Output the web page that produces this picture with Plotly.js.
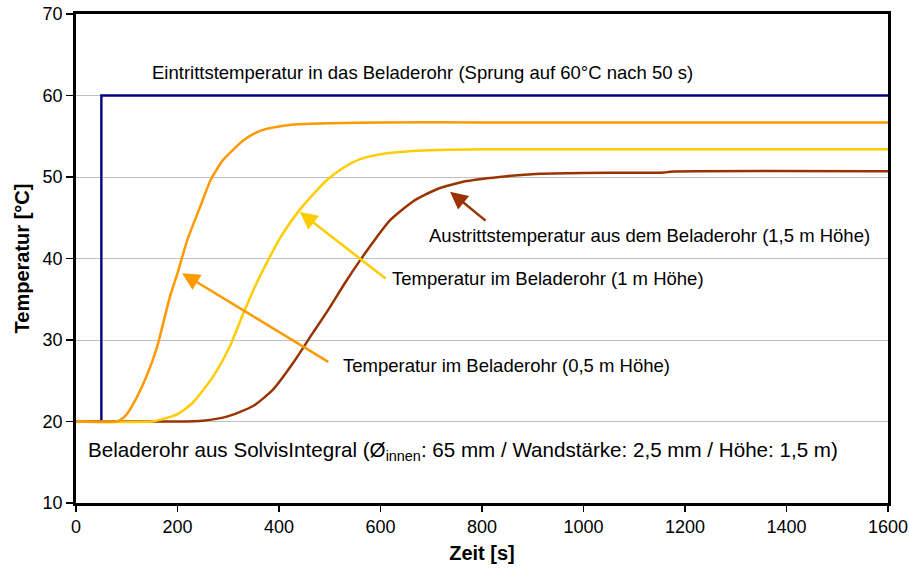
<!DOCTYPE html>
<html><head><meta charset="utf-8">
<script src="https://cdn.plot.ly/plotly-3.0.1.min.js"></script>
<style>html,body{margin:0;padding:0;background:#fff}#chart{width:909px;height:571px}</style>
</head><body><div id="chart"></div>
<script>
// Inlet temperature (step to 60 °C after 50 s)
const inletX = [0, 50, 50, 1600];
const inletY = [20, 20, 60, 60];
// 0.5 m height
const t05X = [0, 80, 90, 100, 120, 140, 160, 185, 200, 220, 245, 265, 290, 330, 350, 375, 400, 430, 500, 600, 800, 1000, 1200, 1600];
const t05Y = [20, 20, 20.3, 20.9, 23.0, 25.7, 29.2, 35.3, 38.2, 42.4, 46.4, 49.6, 52.1, 54.5, 55.3, 55.9, 56.2, 56.45, 56.6, 56.7, 56.7, 56.7, 56.7, 56.7];
// 1 m height
const t10X = [0, 150, 165, 200, 230, 270, 303, 330, 356, 382, 402, 441, 494, 526, 560, 600, 664, 800, 1000, 1600];
const t10Y = [20, 20, 20.2, 20.9, 22.3, 25.5, 29.2, 33.3, 37.0, 40.2, 42.5, 46.0, 49.6, 51.1, 52.2, 52.8, 53.2, 53.4, 53.4, 53.4];
// 1.5 m height (outlet)
const t15X = [0, 200, 250, 297, 349, 388, 428, 467, 497, 530, 560, 590, 619, 664, 711, 770, 849, 914, 1000, 1160, 1170, 1600];
const t15Y = [20, 20, 20.1, 20.6, 21.9, 23.9, 27.2, 30.9, 33.7, 37.0, 39.8, 42.4, 44.7, 47.0, 48.5, 49.5, 50.1, 50.4, 50.5, 50.55, 50.65, 50.7];

const xTicks = [0, 200, 400, 600, 800, 1000, 1200, 1400, 1600];
const yTicks = [10, 20, 30, 40, 50, 60, 70];

const FONT = 'Liberation Sans, Arial, sans-serif';

const curveLine = (c) => ({color: c, width: 2.5, shape: 'spline', smoothing: 0.6});
const traces = [
  {x: inletX, y: inletY, mode: 'lines', line: {color: '#000080', width: 2.4}},
  {x: t15X, y: t15Y, mode: 'lines', line: curveLine('#993300')},
  {x: t10X, y: t10Y, mode: 'lines', line: curveLine('#FFCC00')},
  {x: t05X, y: t05Y, mode: 'lines', line: curveLine('#FF9900')}
];

function arrow(hx, hy, tx, ty, color) {
  return {x: hx, y: hy, ax: tx, ay: ty, xref: 'x', yref: 'y', axref: 'x', ayref: 'y',
    text: '', showarrow: true, arrowhead: 2, arrowsize: 1.4, arrowwidth: 2.5, arrowcolor: color};
}
function label(x, y, text, size) {
  return {x: x, y: y, xref: 'x', yref: 'y', text: text, showarrow: false,
    xanchor: 'left', yanchor: 'middle', font: {family: FONT, size: size || 18.5, color: '#000'}};
}

const layout = {
  width: 909, height: 571,
  margin: {l: 76, r: 21, t: 14, b: 68},
  paper_bgcolor: '#fff', plot_bgcolor: '#fff',
  showlegend: false,
  font: {family: FONT, size: 18, color: '#000'},
  xaxis: {
    range: [0, 1600], tickvals: xTicks, ticktext: xTicks.map(String),
    showgrid: false, zeroline: false,
    showline: true, linecolor: '#000', linewidth: 2.8, mirror: true,
    ticks: 'outside', ticklen: 6, tickwidth: 1.5, tickcolor: '#000',
    tickfont: {family: FONT, size: 18},
    title: {text: '<b>Zeit [s]</b>', font: {family: FONT, size: 20}, standoff: 10}
  },
  yaxis: {
    range: [10, 70], tickvals: yTicks, ticktext: yTicks.map(String),
    showgrid: true, gridcolor: '#c0c0c0', gridwidth: 1, zeroline: false,
    showline: true, linecolor: '#000', linewidth: 2.8, mirror: true,
    ticks: 'outside', ticklen: 7, tickwidth: 1.5, tickcolor: '#000',
    tickfont: {family: FONT, size: 18},
    title: {text: '<b>Temperatur [°C]</b>', font: {family: FONT, size: 20}, standoff: 8}
  },
  annotations: [
    arrow(737, 48.2, 810, 44.5, '#993300'),
    arrow(441, 45.7, 613, 37.4, '#FFCC00'),
    arrow(209, 38.2, 500, 27.2, '#FF9900'),
    label(146, 62.8, 'Eintrittstemperatur in das Beladerohr (Sprung auf 60°C nach 50 s)'),
    label(692, 42.8, 'Austrittstemperatur aus dem Beladerohr (1,5 m Höhe)'),
    label(619, 37.5, 'Temperatur im Beladerohr (1 m Höhe)'),
    label(522, 26.9, 'Temperatur im Beladerohr (0,5 m Höhe)'),
    label(19, 16.4, 'Beladerohr aus SolvisIntegral (Ø<sub>innen</sub>: 65 mm / Wandstärke: 2,5 mm / Höhe: 1,5 m)', 20.6)
  ]
};

Plotly.newPlot('chart', traces, layout, {displayModeBar: false, staticPlot: true});
</script>
</body></html>
